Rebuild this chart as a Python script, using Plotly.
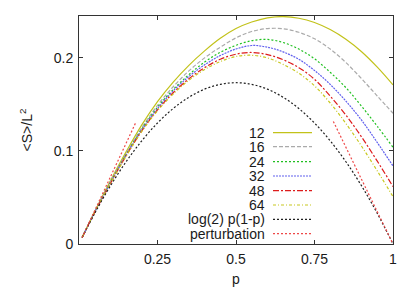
import plotly.graph_objects as go

p = [0.01, 0.05, 0.1, 0.15, 0.2, 0.25, 0.3, 0.35, 0.4, 0.45, 0.5,
     0.55, 0.6, 0.65, 0.7, 0.75, 0.8, 0.85, 0.9, 0.95, 1.0]

s12 = [0.007, 0.035, 0.068, 0.099, 0.128, 0.153, 0.174, 0.192, 0.2075, 0.221, 0.2315,
       0.2385, 0.243, 0.2444, 0.2426, 0.238, 0.2304, 0.220, 0.2066, 0.190, 0.171]
s16 = [0.007, 0.0345, 0.067, 0.097, 0.125, 0.149, 0.169, 0.186, 0.200, 0.2115, 0.2215,
       0.2283, 0.2315, 0.2313, 0.2275, 0.2205, 0.2095, 0.195, 0.1776, 0.159, 0.1405]
s24 = [0.007, 0.0345, 0.066, 0.096, 0.1235, 0.147, 0.166, 0.182, 0.1955, 0.206, 0.2135,
       0.2185, 0.2198, 0.2165, 0.2095, 0.199, 0.1845, 0.168, 0.148, 0.1265, 0.104]
s32 = [0.007, 0.0342, 0.0655, 0.0955, 0.1225, 0.1455, 0.1645, 0.180, 0.1925, 0.2025, 0.2095,
       0.2133, 0.2115, 0.2065, 0.1985, 0.1865, 0.1715, 0.1535, 0.133, 0.109, 0.0839]
s48 = [0.007, 0.034, 0.065, 0.0948, 0.1215, 0.144, 0.1625, 0.1775, 0.1895, 0.1985, 0.204,
       0.2058, 0.2035, 0.198, 0.1895, 0.177, 0.159, 0.1385, 0.115, 0.089, 0.0617]
s64 = [0.007, 0.034, 0.0648, 0.0943, 0.121, 0.1432, 0.1612, 0.176, 0.1875, 0.196, 0.2015,
       0.2028, 0.200, 0.193, 0.1835, 0.170, 0.1515, 0.1295, 0.105, 0.0785, 0.0509]
slog = [0.0069, 0.0329, 0.0624, 0.0884, 0.1109, 0.1300, 0.1456, 0.1577, 0.1664, 0.1715, 0.1733,
        0.1715, 0.1664, 0.1577, 0.1456, 0.1300, 0.1109, 0.0884, 0.0624, 0.0329, 0.0]

pert_left_p = [0.01, 0.1806]
pert_left_s = [0.0069, 0.1304]
pert_right_p = [0.81, 1.0]
pert_right_s = [0.1317, 0.0]

labels = ["12", "16", "24", "32", "48", "64", "log(2) p(1-p)", "perturbation"]
xticks = [0.25, 0.5, 0.75, 1.0]
xticktext = ["0.25", "0.5", "0.75", "1"]
yticks = [0.0, 0.1, 0.2]
yticktext = ["0", "0.1", "0.2"]

styles = [
    dict(color="#c2c21a", dash="solid"),
    dict(color="#aaaaaa", dash="4px,2px"),
    dict(color="#20c020", dash="2px,2px"),
    dict(color="#6060ee", dash="2px,1px"),
    dict(color="#dd1c1c", dash="6px,2px,2px,2px"),
    dict(color="#c8c820", dash="3px,2px,1px,2px"),
    dict(color="#202020", dash="2px,2px"),
    dict(color="#ee4848", dash="2px,2px"),
]

fig = go.Figure()
series = [s12, s16, s24, s32, s48, s64, slog]
for s, st in zip(series, styles[:7]):
    fig.add_trace(go.Scatter(x=p, y=s, mode="lines", line_shape="spline",
                             line=dict(color=st["color"], dash=st["dash"], width=1.2),
                             showlegend=False, hoverinfo="skip"))
for xs, ys in [(pert_left_p, pert_left_s), (pert_right_p, pert_right_s)]:
    fig.add_trace(go.Scatter(x=xs, y=ys, mode="lines",
                             line=dict(color=styles[7]["color"], dash=styles[7]["dash"], width=1.2),
                             showlegend=False, hoverinfo="skip"))

# gnuplot-style key: text right-aligned, sample line to its right
row_y = [132.7, 146.7, 161.7, 176.0, 190.7, 205.0, 219.3, 233.7]
top, bottom, left, right = 16, 244, 79, 393
for lab, st, yy in zip(labels, styles, row_y):
    ypap = (bottom - yy) / (bottom - top)
    fig.add_annotation(x=(266 - left) / (right - left), y=ypap, xref="paper", yref="paper",
                       text=lab, showarrow=False, xanchor="right", yanchor="middle",
                       font=dict(size=14, color="#1a1a1a"), borderpad=0)
    fig.add_shape(type="line", xref="paper", yref="paper",
                  x0=(273 - left) / (right - left), x1=(312 - left) / (right - left),
                  y0=ypap, y1=ypap, line=dict(color=st["color"], dash=st["dash"], width=1.2))

axis_common = dict(showline=True, linecolor="#333333", linewidth=1, mirror="ticks",
                   ticks="inside", ticklen=4, tickcolor="#333333", showgrid=False,
                   zeroline=False, automargin=False,
                   tickfont=dict(size=14, color="#1a1a1a"))
fig.update_xaxes(range=[0, 1], tickvals=xticks, ticktext=xticktext,
                 title=dict(text="p", font=dict(size=14, color="#1a1a1a"), standoff=8),
                 ticklabelstandoff=2, **axis_common)
fig.update_yaxes(range=[0, 0.245], tickvals=yticks, ticktext=yticktext,
                 title=dict(text="&lt;S&gt;/L<sup>2</sup>", font=dict(size=14, color="#1a1a1a"), standoff=17),
                 ticklabelstandoff=2, **axis_common)
# the page body adds an 8px offset, so margins are reduced accordingly
fig.update_layout(width=407, height=283, margin=dict(l=71, r=22, t=8, b=47),
                  plot_bgcolor="white", paper_bgcolor="white",
                  font=dict(family="Liberation Sans, Arial, sans-serif", size=14))
fig.write_html("out.html")
